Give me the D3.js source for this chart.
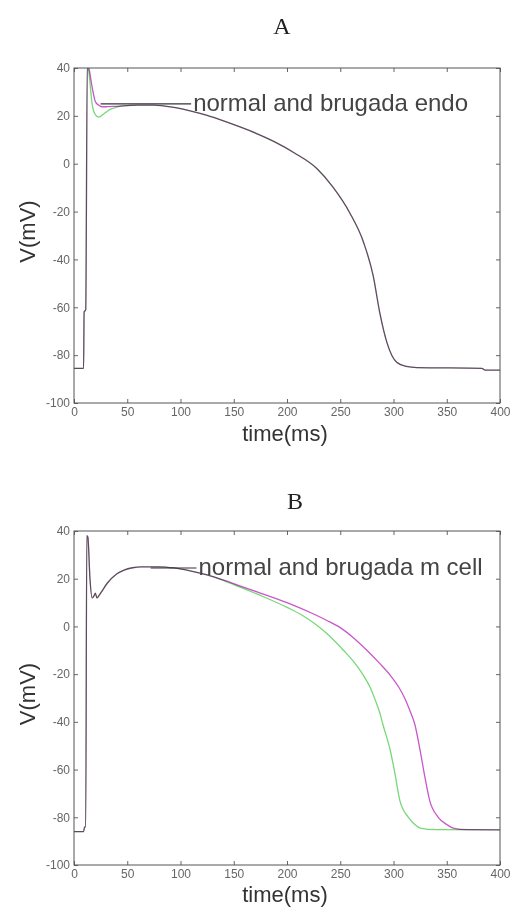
<!DOCTYPE html>
<html>
<head>
<meta charset="utf-8">
<script src="https://cdn.jsdelivr.net/npm/d3@7"></script>
<style>
    body { margin: 0; background: #fff; }
    .tick-label { font-family: "Liberation Sans", Arial, sans-serif; font-size: 12px; fill: #666; }
    .axis-label { font-family: "Liberation Sans", Arial, sans-serif; font-size: 22px; fill: #333; }
    .note { font-family: "Liberation Sans", Arial, sans-serif; font-size: 24px; fill: #444; }
    .panel-title { font-family: "Liberation Serif", "DejaVu Serif", serif; font-size: 24px; fill: #222; }
    .frame { fill: none; stroke: #555; stroke-width: 1; }
    .trace { fill: none; stroke-width: 1.3; mix-blend-mode: multiply; }
</style>
</head>
<body>
<svg id="fig" width="512" height="909"></svg>
<script>

// ---- data ----
let xTicks = [0, 50, 100, 150, 200, 250, 300, 350, 400];
let yTicks = [40, 20, 0, -20, -40, -60, -80, -100];

// panel A : endo cell, both traces share the time base
let tA = [0, 9, 9.5, 11, 12.5, 14, 17, 20, 23, 25, 27, 30, 33, 40, 43, 50, 60, 75, 94, 110, 125, 141, 165,
    188, 207, 228, 243, 259, 272, 281, 287, 294, 303, 312, 322, 383, 386, 400];
let vA_normal = [-85.5, -85.5, -62, -61, 42, 40, 32, 26, 24.5, 24, 23.8, 23.8, 23.9, 24, 24.1, 24.3, 24.5, 24.5,
    23.5, 22, 20.2, 17.8, 13.8, 9.2, 4.5, -2, -9.7, -20.6, -33, -47, -62, -75, -83, -84.7, -85.2, -85.5, -86.3, -86.3];
let vA_brugada = [-85.5, -85.5, -62, -61, 42, 38, 25, 20.5, 19.5, 19.8, 20.5, 21.5, 22.5, 23.6, 24, 24.3, 24.5, 24.5,
    23.5, 22, 20.2, 17.8, 13.8, 9.2, 4.5, -2, -9.7, -20.6, -33, -47, -62, -75, -83, -84.7, -85.2, -85.5, -86.3, -86.3];

// panel B : m cell
let tB_normal = [0, 9, 10, 11, 12, 13, 15, 17, 19, 20, 21.5, 25, 31, 40, 47, 55, 63, 80, 94, 110, 125, 140, 157,
    175, 200, 225, 237, 250, 262, 275, 287, 297, 305, 311, 316, 320, 325, 329, 334, 342, 350, 356, 370, 400];
let vB_normal = [-86, -86, -84, -84, 38, 37.5, 20, 12, 13, 14, 12, 14, 18, 22, 23.6, 24.6, 25, 25, 24.5, 23.2, 21.6,
    19.5, 16.8, 14, 10, 5.2, 2.6, -0.5, -4.6, -10, -15.5, -20.5, -25.5, -30.5, -36, -41, -52, -62, -73, -80, -83, -84.5, -85.2, -85.3];
let tB_brugada = [0, 9, 10, 11, 12, 13, 15, 17, 19, 20, 21.5, 25, 31, 40, 47, 55, 63, 80, 94, 110, 125, 140, 150,
    175, 200, 215, 228, 240, 253, 263, 271, 278, 283, 287, 290, 297, 301.5, 306, 314, 320, 325, 340, 400];
let vB_brugada = [-86, -86, -84, -84, 38, 37.5, 20, 12, 13, 14, 12, 14, 18, 22, 23.6, 24.6, 25, 25, 24.5, 23.2, 21.6,
    19.3, 17.5, 13, 8, 4.5, 0.5, -4, -10, -15, -20, -25.5, -31, -36, -41, -52, -62, -73, -80, -83, -84.5, -85.2, -85.3];

// annotation leader lines [t start, t end, V]
let noteA = {line: [25, 110, 25], text: "normal and brugada endo"};
let noteB = {line: [72, 115, 24.5], text: "normal and brugada m cell"};

let colors = {normal: "#c858c8", brugada: "#78d878"};

class Panel {

    constructor(svg, box, id){
        this.svg = svg;
        this.box = box;
        this.id = id;
    }

    draw(title, series, note, labelOffsets){
        let b = this.box;
        let xScale = d3.scaleLinear().domain([0, 400]).range([b.left, b.right]);
        let yScale = d3.scaleLinear().domain([-100, 40]).range([b.bottom, b.top]);
        let g = this.svg.append("g");

        g.append("clipPath").attr("id", "clip" + this.id)
            .append("rect")
            .attr("x", b.left).attr("y", b.top)
            .attr("width", b.right - b.left).attr("height", b.bottom - b.top);

        let line = d3.line()
            .x(d => xScale(d[0]))
            .y(d => yScale(d[1]))
            .curve(d3.curveMonotoneX);

        let plot = g.append("g").attr("clip-path", "url(#clip" + this.id + ")")
            .style("isolation", "isolate");
        series.forEach(function (s){
            let pts = s.t.map((t, i) => [t, s.v[i]]);
            plot.append("path")
                .attr("class", "trace")
                .attr("stroke", s.color)
                .attr("d", line(pts));
        });

        // leader line + text
        let ln = note.line;
        g.append("line")
            .attr("x1", xScale(ln[0])).attr("x2", xScale(ln[1]))
            .attr("y1", yScale(ln[2])).attr("y2", yScale(ln[2]))
            .attr("stroke", "#333").attr("stroke-width", 1.2);
        g.append("text")
            .attr("class", "note")
            .attr("x", xScale(ln[1]) + 2)
            .attr("y", yScale(ln[2]) + 7)
            .text(note.text);

        // axes, matlab style: ticks inside on all four sides, plain hyphen minus
        let fmt = d => String(d);
        let xAxis = d3.axisBottom(xScale).tickValues(xTicks).tickSizeInner(-4).tickSizeOuter(0).tickPadding(4).tickFormat(fmt);
        let yAxis = d3.axisLeft(yScale).tickValues(yTicks).tickSizeInner(-4).tickSizeOuter(0).tickPadding(4).tickFormat(fmt);
        let xTop = d3.axisTop(xScale).tickValues(xTicks).tickSizeInner(-4).tickSizeOuter(0).tickFormat("");
        let yRight = d3.axisRight(yScale).tickValues(yTicks).tickSizeInner(-4).tickSizeOuter(0).tickFormat("");

        [[xAxis, "translate(0," + b.bottom + ")"], [yAxis, "translate(" + b.left + ",0)"],
         [xTop, "translate(0," + b.top + ")"], [yRight, "translate(" + b.right + ",0)"]].forEach(function (a){
            let ax = g.append("g").attr("transform", a[1]).call(a[0]);
            ax.select(".domain").remove();
            ax.selectAll("line").attr("stroke", "#666");
            ax.selectAll("text").attr("class", "tick-label").attr("font-size", null).attr("font-family", null).attr("fill", null);
        });

        g.append("rect").attr("class", "frame")
            .attr("x", b.left).attr("y", b.top)
            .attr("width", b.right - b.left).attr("height", b.bottom - b.top);

        g.append("text").attr("class", "panel-title")
            .attr("x", title.x).attr("y", title.y)
            .attr("text-anchor", "middle")
            .text(title.text);

        g.append("text").attr("class", "axis-label")
            .attr("x", (b.left + b.right) / 2 - 2)
            .attr("y", b.bottom + labelOffsets.x)
            .attr("text-anchor", "middle")
            .text("time(ms)");

        g.append("text").attr("class", "axis-label")
            .attr("transform", "translate(" + labelOffsets.y + "," + ((b.top + b.bottom) / 2 - 4) + ") rotate(-90)")
            .attr("text-anchor", "middle")
            .text("V(mV)");
    }
}

let svg = d3.select("#fig");
svg.append("rect").attr("width", 512).attr("height", 909).attr("fill", "#fff");

let panelA = new Panel(svg, {left: 74, right: 500, top: 68, bottom: 403}, "A");
panelA.draw({text: "A", x: 282, y: 34},
    [{t: tA, v: vA_brugada, color: colors.brugada}, {t: tA, v: vA_normal, color: colors.normal}],
    noteA, {x: 38, y: 35});

let panelB = new Panel(svg, {left: 74, right: 500, top: 531, bottom: 865}, "B");
panelB.draw({text: "B", x: 295, y: 509},
    [{t: tB_brugada, v: vB_brugada, color: colors.brugada}, {t: tB_normal, v: vB_normal, color: colors.normal}],
    noteB, {x: 37, y: 35});

</script>
</body>
</html>
